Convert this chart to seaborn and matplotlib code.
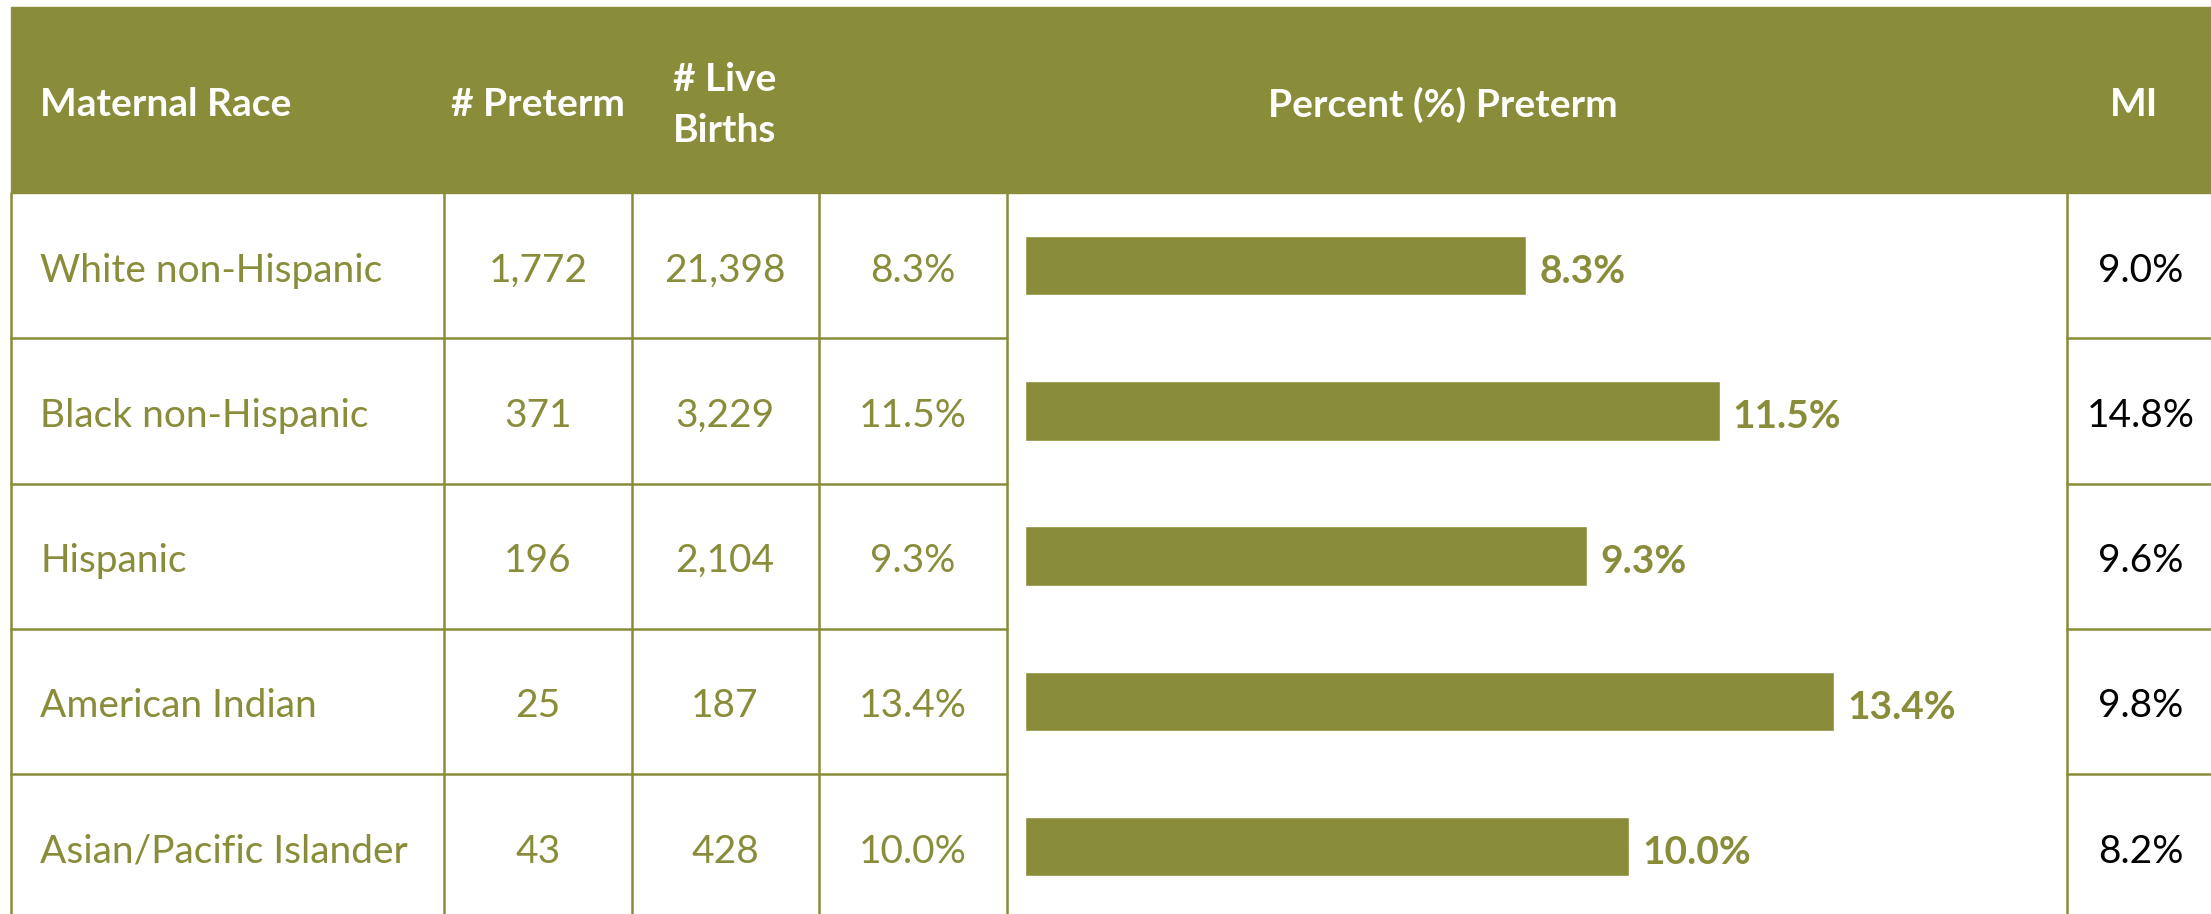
import matplotlib
matplotlib.use("Agg")
import matplotlib.pyplot as plt
import seaborn as sns
import pandas as pd

# table data
races = ["White non-Hispanic", "Black non-Hispanic", "Hispanic",
         "American Indian", "Asian/Pacific Islander"]
preterm = ["1,772", "371", "196", "25", "43"]
live_births = ["21,398", "3,229", "2,104", "187", "428"]
pct_preterm = [8.3, 11.5, 9.3, 13.4, 10.0]
mi = [9.0, 14.8, 9.6, 9.8, 8.2]

OLIVE = "#898C39"
W, H = 2211, 914

sns.set_theme(style="white")
plt.rcParams["font.family"] = ["Lato", "DejaVu Sans"]

fig = plt.figure(figsize=(W / 100, H / 100), dpi=100)

# layout in pixels
head_top, head_bot = 7, 193
row_h = 145.25
left_edge = 11
col_lines = [444, 632, 819, 1007]
mi_line = 2067
fs = 28

ax = fig.add_axes([0, 0, 1, 1])
ax.set_xlim(0, W)
ax.set_ylim(H, 0)
ax.axis("off")

# header band
ax.add_patch(plt.Rectangle((left_edge, head_top), W - left_edge, head_bot - head_top,
                           color=OLIVE, zorder=1))
hc = (head_top + head_bot) / 2 + 5
hdr = dict(color="white", fontsize=fs, fontweight="bold", va="center", zorder=3)
ax.text(40, hc, "Maternal Race", ha="left", **hdr)
ax.text(538, hc, "# Preterm", ha="center", **hdr)
ax.text(725, hc, "# Live\nBirths", ha="center", linespacing=1.55, **hdr)
ax.text(1443, hc, "Percent (%) Preterm", ha="center", **hdr)
ax.text(2134, hc, "MI", ha="center", **hdr)

# grid lines
lw = 1.8
n = len(races)
bottom = head_bot + n * row_h
for x in [left_edge] + col_lines:
    ax.plot([x, x], [head_bot, bottom], color=OLIVE, lw=lw, zorder=2)
ax.plot([mi_line, mi_line], [head_bot, bottom], color=OLIVE, lw=lw, zorder=2)
for i in range(1, n):
    y = head_bot + i * row_h
    ax.plot([left_edge, col_lines[-1]], [y, y], color=OLIVE, lw=lw, zorder=2)
    ax.plot([mi_line, W], [y, y], color=OLIVE, lw=lw, zorder=2)

# cell text
for i in range(n):
    yc = head_bot + (i + 0.5) * row_h + 5
    ax.text(40, yc, races[i], ha="left", va="center", color=OLIVE, fontsize=fs)
    ax.text(538, yc, preterm[i], ha="center", va="center", color=OLIVE, fontsize=fs)
    ax.text(725, yc, live_births[i], ha="center", va="center", color=OLIVE, fontsize=fs)
    ax.text(913, yc, f"{pct_preterm[i]:.1f}%", ha="center", va="center",
            color=OLIVE, fontsize=fs)
    ax.text(2141, yc, f"{mi[i]:.1f}%", ha="center", va="center",
            color="black", fontsize=fs)

# bar chart column
px_per_pct = 60.4
bar_x0 = 1025
xmax = 17
bax = fig.add_axes([bar_x0 / W, 0, xmax * px_per_pct / W, (H - head_bot) / H])
df = pd.DataFrame({"race": races, "pct": pct_preterm})
sns.barplot(data=df, x="pct", y="race", orient="h", color=OLIVE,
            saturation=1, width=0.41, ax=bax)
bax.set_xlim(0, xmax)
bax.set_ylim((H - head_bot) / row_h - 0.5, -0.5)
bax.axis("off")
bax.patch.set_alpha(0)
for i, v in enumerate(pct_preterm):
    bax.text(v + 0.22, i + 0.04, f"{v:.1f}%", ha="left", va="center",
             color=OLIVE, fontsize=fs, fontweight="bold")

fig.savefig("out.png", dpi=100)
